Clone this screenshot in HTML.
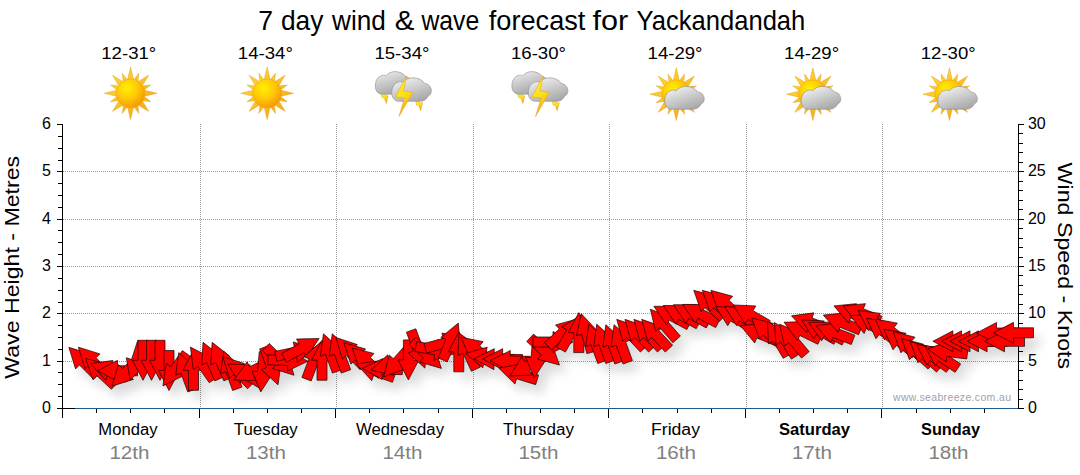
<!DOCTYPE html>
<html><head><meta charset="utf-8"><title>7 day wind &amp; wave forecast for Yackandandah</title>
<style>
html,body{margin:0;padding:0;background:#fff;}
body{width:1080px;height:475px;overflow:hidden;font-family:"Liberation Sans",sans-serif;}
svg{display:block;font-family:"Liberation Sans",sans-serif;}
</style></head><body>
<svg width="1080" height="475" viewBox="0 0 1080 475">
<defs>
<radialGradient id="sunG" cx="0.38" cy="0.32" r="0.75">
<stop offset="0" stop-color="#fff000"/><stop offset="0.5" stop-color="#ffc808"/><stop offset="1" stop-color="#f59200"/>
</radialGradient>
<linearGradient id="rayG" x1="0" y1="0" x2="1" y2="1">
<stop offset="0" stop-color="#ffe030"/><stop offset="1" stop-color="#f3a214"/>
</linearGradient>
<linearGradient id="cloudG" x1="0" y1="0" x2="0.6" y2="1">
<stop offset="0" stop-color="#fbfbfb"/><stop offset="0.4" stop-color="#dadada"/><stop offset="1" stop-color="#aaaaaa"/>
</linearGradient>
<linearGradient id="cloudG2" x1="0" y1="0" x2="0.5" y2="1">
<stop offset="0" stop-color="#f4f4f4"/><stop offset="0.4" stop-color="#d2d2d2"/><stop offset="1" stop-color="#a4a4a4"/>
</linearGradient>
<linearGradient id="boltG" x1="0" y1="0" x2="0.3" y2="1">
<stop offset="0" stop-color="#fff02a"/><stop offset="0.55" stop-color="#fde01a"/><stop offset="1" stop-color="#f2a81a"/>
</linearGradient>
<filter id="sh" x="-5%" y="-30%" width="110%" height="180%">
<feGaussianBlur in="SourceAlpha" stdDeviation="5.5"/>
<feOffset dx="7" dy="9" result="b"/>
<feComponentTransfer><feFuncA type="linear" slope="0.15"/></feComponentTransfer>
</filter>
<filter id="soft" x="-10%" y="-10%" width="120%" height="120%"><feGaussianBlur stdDeviation="0.35"/></filter>

<g id="sun"><path d="M3.2 -13L-3.2 -13L0 -26.4ZM7.19 -11.09L2.76 -12.93L8.34 -20.14ZM11.38 -7L7 -11.38L18.1 -18.1ZM12.93 -2.76L11.09 -7.19L20.14 -8.34ZM13 3.2L13 -3.2L26.4 -0ZM11.09 7.19L12.93 2.76L20.14 8.34ZM7 11.38L11.38 7L18.1 18.1ZM2.76 12.93L7.19 11.09L8.34 20.14ZM-3.2 13L3.2 13L0 26.4ZM-7.19 11.09L-2.76 12.93L-8.34 20.14ZM-11.38 7L-7 11.38L-18.1 18.1ZM-12.93 2.76L-11.09 7.19L-20.14 8.34ZM-13 -3.2L-13 3.2L-26.4 0ZM-11.09 -7.19L-12.93 -2.76L-20.14 -8.34ZM-7 -11.38L-11.38 -7L-18.1 -18.1ZM-2.76 -12.93L-7.19 -11.09L-8.34 -20.14Z" fill="url(#rayG)" stroke="#dd9416" stroke-width="0.4"/><circle cx="0" cy="0" r="14.3" fill="url(#sunG)" stroke="#f0a010" stroke-width="0.4"/></g>
</defs>
<rect width="1080" height="475" fill="#fff"/>
<line x1="63" y1="361.5" x2="1018" y2="361.5" stroke="#9a9a9a" stroke-width="1" stroke-dasharray="1 1"/>
<line x1="63" y1="313.5" x2="1018" y2="313.5" stroke="#9a9a9a" stroke-width="1" stroke-dasharray="1 1"/>
<line x1="63" y1="266.5" x2="1018" y2="266.5" stroke="#9a9a9a" stroke-width="1" stroke-dasharray="1 1"/>
<line x1="63" y1="219.5" x2="1018" y2="219.5" stroke="#9a9a9a" stroke-width="1" stroke-dasharray="1 1"/>
<line x1="63" y1="171.5" x2="1018" y2="171.5" stroke="#9a9a9a" stroke-width="1" stroke-dasharray="1 1"/>
<line x1="200.5" y1="124" x2="200.5" y2="408" stroke="#9a9a9a" stroke-width="1" stroke-dasharray="1 1"/>
<line x1="336.5" y1="124" x2="336.5" y2="408" stroke="#9a9a9a" stroke-width="1" stroke-dasharray="1 1"/>
<line x1="473.5" y1="124" x2="473.5" y2="408" stroke="#9a9a9a" stroke-width="1" stroke-dasharray="1 1"/>
<line x1="609.5" y1="124" x2="609.5" y2="408" stroke="#9a9a9a" stroke-width="1" stroke-dasharray="1 1"/>
<line x1="746.5" y1="124" x2="746.5" y2="408" stroke="#9a9a9a" stroke-width="1" stroke-dasharray="1 1"/>
<line x1="882.5" y1="124" x2="882.5" y2="408" stroke="#9a9a9a" stroke-width="1" stroke-dasharray="1 1"/>
<path d="M62.5 124V418M1018.5 124V409M57 408.5H63M58 396.5H63M58 384.5H63M58 372.5H63M57 361.5H63M58 349.5H63M58 337.5H63M58 325.5H63M57 313.5H63M58 302.5H63M58 290.5H63M58 278.5H63M57 266.5H63M58 254.5H63M58 242.5H63M58 230.5H63M57 219.5H63M58 207.5H63M58 195.5H63M58 183.5H63M57 171.5H63M58 160.5H63M58 148.5H63M58 136.5H63M57 124.5H63M1018 408.5H1024M1018 399.5H1023M1018 389.5H1023M1018 380.5H1023M1018 370.5H1023M1018 361.5H1024M1018 351.5H1023M1018 342.5H1023M1018 332.5H1023M1018 323.5H1023M1018 313.5H1024M1018 304.5H1023M1018 294.5H1023M1018 285.5H1023M1018 275.5H1023M1018 266.5H1024M1018 257.5H1023M1018 247.5H1023M1018 238.5H1023M1018 228.5H1023M1018 219.5H1024M1018 209.5H1023M1018 200.5H1023M1018 190.5H1023M1018 181.5H1023M1018 171.5H1024M1018 162.5H1023M1018 152.5H1023M1018 143.5H1023M1018 133.5H1023M1018 124.5H1024M62.5 408V418M96.5 408V413M130.5 408V413M164.5 408V413M199.5 408V418M233.5 408V413M267.5 408V413M301.5 408V413M335.5 408V418M369.5 408V413M403.5 408V413M438.5 408V413M472.5 408V418M506.5 408V413M540.5 408V413M574.5 408V413M608.5 408V418M642.5 408V413M677.5 408V413M711.5 408V413M745.5 408V418M779.5 408V413M813.5 408V413M847.5 408V413M881.5 408V418M916.5 408V413M950.5 408V413M984.5 408V413" stroke="#000" stroke-width="1" fill="none" shape-rendering="crispEdges"/>
<line x1="57" y1="408.5" x2="75" y2="408.5" stroke="#000" stroke-width="1" shape-rendering="crispEdges"/>
<line x1="75" y1="408.5" x2="1018" y2="408.5" stroke="#1f5c90" stroke-width="1" shape-rendering="crispEdges"/>
<g filter="url(#sh)"><polygon points="68.86,347.36 90.42,354.08 86.54,357.96 100.68,372.11 93.61,379.18 79.46,365.04 75.58,368.92"/><polygon points="78.36,347.16 99.92,353.88 96.04,357.76 110.18,371.91 103.11,378.98 88.96,364.84 85.08,368.72"/><polygon points="85.57,358.36 107.36,364.32 103.61,368.34 118.24,381.98 111.42,389.3 96.79,375.66 93.04,379.68"/><polygon points="90.51,363.56 112.89,360.53 111.01,365.7 129.8,372.54 126.38,381.94 107.59,375.1 105.71,380.27"/><polygon points="97.5,370.8 117.5,360.3 117.5,365.8 137.5,365.8 137.5,375.8 117.5,375.8 117.5,381.3"/><polygon points="111.86,386.14 118.58,364.58 122.46,368.46 136.61,354.32 143.68,361.39 129.54,375.54 133.42,379.42"/><polygon points="130.12,380.02 126.31,357.76 131.54,359.45 137.73,340.43 147.24,343.52 141.06,362.55 146.29,364.24"/><polygon points="143,380.3 132.5,360.3 138,360.3 138,340.3 148,340.3 148,360.3 153.5,360.3"/><polygon points="151.5,380.3 141,360.3 146.5,360.3 146.5,340.3 156.5,340.3 156.5,360.3 162,360.3"/><polygon points="160,380.3 149.5,360.3 155,360.3 155,340.3 165,340.3 165,360.3 170.5,360.3"/><polygon points="169,390.5 158.5,370.5 164,370.5 164,350.5 174,350.5 174,370.5 179.5,370.5"/><polygon points="162.94,385.88 166.21,363.53 170.65,366.76 182.41,350.58 190.5,356.46 178.75,372.64 183.19,375.87"/><polygon points="178.76,352.61 195.47,367.81 190.3,369.69 197.14,388.48 187.74,391.9 180.9,373.11 175.73,374.99"/><polygon points="193.5,350.3 204,370.3 198.5,370.3 198.5,390.3 188.5,390.3 188.5,370.3 183,370.3"/><polygon points="190.43,347.12 210.5,357.48 206,360.63 217.47,377.02 209.28,382.75 197.8,366.37 193.3,369.52"/><polygon points="203.07,342.33 220.79,356.33 215.77,358.57 223.9,376.84 214.77,380.9 206.63,362.63 201.61,364.87"/><polygon points="212.17,342.33 229.89,356.33 224.87,358.57 233,376.84 223.87,380.9 215.73,362.63 210.71,364.87"/><polygon points="223.66,351.21 240.37,366.41 235.2,368.29 242.04,387.08 232.64,390.5 225.8,371.71 220.63,373.59"/><polygon points="222.86,356.86 244.42,363.58 240.54,367.46 254.68,381.61 247.61,388.68 233.46,374.54 229.58,378.42"/><polygon points="227.68,364 250.25,364.91 247.5,369.67 264.82,379.67 259.82,388.33 242.5,378.33 239.75,383.09"/><polygon points="233.72,380.07 247.1,361.86 249.51,366.81 267.48,358.04 271.87,367.03 253.89,375.79 256.3,380.74"/><polygon points="260.76,391.92 252.04,371.08 257.52,371.56 259.26,351.64 269.22,352.51 267.48,372.44 272.96,372.92"/><polygon points="278.04,384.79 261.33,369.59 266.5,367.71 259.66,348.92 269.06,345.5 275.9,364.29 281.07,362.41"/><polygon points="294.04,375.24 272.48,368.52 276.36,364.64 262.22,350.49 269.29,343.42 283.44,357.56 287.32,353.68"/><polygon points="307.89,361.2 287.53,370.99 287.73,365.5 267.74,364.8 268.09,354.81 288.07,355.5 288.27,350.01"/><polygon points="314.96,348.04 297.58,362.47 296.44,357.09 276.88,361.25 274.8,351.47 294.36,347.31 293.22,341.93"/><polygon points="319.09,338.5 306.69,357.38 304.02,352.57 286.53,362.27 281.68,353.52 299.18,343.83 296.51,339.02"/><polygon points="320.87,341.83 323.5,364.26 318.37,362.29 311.2,380.96 301.86,377.38 309.03,358.71 303.9,356.74"/><polygon points="322,340.2 332.5,360.2 327,360.2 327,380.2 317,380.2 317,360.2 311.5,360.2"/><polygon points="323.46,333.81 340.17,349.01 335,350.89 341.84,369.68 332.44,373.1 325.6,354.31 320.43,356.19"/><polygon points="332.26,333.81 348.97,349.01 343.8,350.89 350.64,369.68 341.24,373.1 334.4,354.31 329.23,356.19"/><polygon points="335.91,337.51 357.35,344.61 353.4,348.43 367.29,362.81 360.1,369.76 346.2,355.37 342.25,359.19"/><polygon points="343.91,342.71 365.59,349.05 361.77,353 376.16,366.9 369.21,374.09 354.83,360.2 351.01,364.15"/><polygon points="352.04,347.92 373.93,353.5 370.25,357.58 385.11,370.97 378.42,378.4 363.55,365.02 359.87,369.1"/><polygon points="356.51,363.96 378.89,360.93 377.01,366.1 395.8,372.94 392.38,382.34 373.59,375.5 371.71,380.67"/><polygon points="362.51,368.3 382.87,358.51 382.67,364 402.66,364.7 402.31,374.69 382.33,374 382.13,379.49"/><polygon points="371.08,370.18 387.68,354.86 389.11,360.17 408.42,354.99 411.01,364.65 391.69,369.83 393.12,375.14"/><polygon points="383.62,376.86 389.2,354.97 393.28,358.65 406.67,343.79 414.1,350.48 400.72,365.35 404.8,369.03"/><polygon points="408.4,379.9 397.9,359.9 403.4,359.9 403.4,339.9 413.4,339.9 413.4,359.9 418.9,359.9"/><polygon points="424.84,368.09 408.13,352.89 413.3,351.01 406.46,332.22 415.86,328.8 422.7,347.59 427.87,345.71"/><polygon points="441.39,368.39 419.71,362.05 423.53,358.1 409.14,344.2 416.09,337.01 430.47,350.9 434.29,346.95"/><polygon points="455.2,353.47 433.68,360.34 434.63,354.92 414.94,351.45 416.67,341.6 436.37,345.08 437.32,339.66"/><polygon points="463.97,337.97 447.37,353.29 445.94,347.98 426.63,353.16 424.04,343.5 443.36,338.32 441.93,333.01"/><polygon points="458.31,323.09 460.17,345.6 455.1,343.45 447.29,361.86 438.08,357.96 445.9,339.55 440.83,337.4"/><polygon points="458.8,331.8 469.3,351.8 463.8,351.8 463.8,371.8 453.8,371.8 453.8,351.8 448.3,351.8"/><polygon points="459.05,332.87 477.02,346.56 472.03,348.89 480.48,367.01 471.42,371.24 462.97,353.11 457.98,355.44"/><polygon points="460.96,337.21 483.11,341.64 479.65,345.91 495.19,358.5 488.9,366.27 473.35,353.69 469.89,357.96"/><polygon points="465.44,353.34 487.18,347.23 486.04,352.61 505.6,356.77 503.52,366.55 483.96,362.39 482.82,367.77"/><polygon points="474.1,358.85 494.28,348.7 494.19,354.2 514.18,354.55 514.01,364.55 494.01,364.2 493.92,369.7"/><polygon points="482.5,358.85 502.68,348.7 502.59,354.2 522.58,354.55 522.41,364.55 502.41,364.2 502.32,369.7"/><polygon points="490.1,360.65 510.28,350.5 510.19,356 530.18,356.35 530.01,366.35 510.01,366 509.92,371.5"/><polygon points="498.87,368.15 521.07,363.96 519.46,369.22 538.59,375.07 535.66,384.63 516.54,378.78 514.93,384.04"/><polygon points="509.68,376 521.75,356.91 524.5,361.67 541.82,351.67 546.82,360.33 529.5,370.33 532.25,375.09"/><polygon points="534.26,377.92 525.54,357.08 531.02,357.56 532.76,337.64 542.72,338.51 540.98,358.44 546.46,358.92"/><polygon points="559.43,365.04 537.64,359.08 541.39,355.06 526.76,341.42 533.58,334.1 548.21,347.74 551.96,343.72"/><polygon points="573,342 553,352.5 553,347 533,347 533,337 553,337 553,331.5"/><polygon points="577.33,318.96 569.86,340.28 566.11,336.26 551.48,349.9 544.66,342.58 559.29,328.94 555.54,324.92"/><polygon points="581,314.98 580.09,337.55 575.33,334.8 565.33,352.12 556.67,347.12 566.67,329.8 561.91,327.05"/><polygon points="578.8,312.6 589.3,332.6 583.8,332.6 583.8,352.6 573.8,352.6 573.8,332.6 568.3,332.6"/><polygon points="581.32,313.68 596.64,330.28 591.33,331.71 596.51,351.02 586.85,353.61 581.67,334.29 576.36,335.72"/><polygon points="588.76,324.21 605.47,339.41 600.3,341.29 607.14,360.08 597.74,363.5 590.9,344.71 585.73,346.59"/><polygon points="596.76,324.21 613.47,339.41 608.3,341.29 615.14,360.08 605.74,363.5 598.9,344.71 593.73,346.59"/><polygon points="605.86,324.71 622.57,339.91 617.4,341.79 624.24,360.58 614.84,364 608,345.21 602.83,347.09"/><polygon points="614.06,324.71 630.77,339.91 625.6,341.79 632.44,360.58 623.04,364 616.2,345.21 611.03,347.09"/><polygon points="616.76,319.37 638.08,326.84 634.06,330.59 647.7,345.22 640.38,352.04 626.74,337.41 622.72,341.16"/><polygon points="624.96,319.37 646.28,326.84 642.26,330.59 655.9,345.22 648.58,352.04 634.94,337.41 630.92,341.16"/><polygon points="633.86,319.37 655.18,326.84 651.16,330.59 664.8,345.22 657.48,352.04 643.84,337.41 639.82,341.16"/><polygon points="641.66,319.37 662.98,326.84 658.96,330.59 672.6,345.22 665.28,352.04 651.64,337.41 647.62,341.16"/><polygon points="650.38,309.21 671.42,317.41 667.27,321.02 680.39,336.11 672.85,342.67 659.73,327.58 655.58,331.19"/><polygon points="653.84,306.31 676.43,306.43 673.85,311.29 691.51,320.67 686.81,329.5 669.15,320.11 666.57,324.97"/><polygon points="663.24,305.51 685.83,305.63 683.25,310.49 700.91,319.87 696.21,328.7 678.55,319.31 675.97,324.17"/><polygon points="673.34,304.71 695.93,304.83 693.35,309.69 711.01,319.07 706.31,327.9 688.65,318.51 686.07,323.37"/><polygon points="682.64,304.41 705.23,304.53 702.65,309.39 720.31,318.77 715.61,327.6 697.95,318.21 695.37,323.07"/><polygon points="693.77,290.36 715.56,296.32 711.81,300.34 726.44,313.98 719.62,321.3 704.99,307.66 701.24,311.68"/><polygon points="702.37,290.36 724.16,296.32 720.41,300.34 735.04,313.98 728.22,321.3 713.59,307.66 709.84,311.68"/><polygon points="710.87,290.36 732.66,296.32 728.91,300.34 743.54,313.98 736.72,321.3 722.09,307.66 718.34,311.68"/><polygon points="715.68,306.6 738.25,307.51 735.5,312.27 752.82,322.27 747.82,330.93 730.5,320.93 727.75,325.69"/><polygon points="724.68,306.6 747.25,307.51 744.5,312.27 761.82,322.27 756.82,330.93 739.5,320.93 736.75,325.69"/><polygon points="733.18,305 755.75,305.91 753,310.67 770.32,320.67 765.32,329.33 748,319.33 745.25,324.09"/><polygon points="740.39,325.49 762.9,323.63 760.75,328.7 779.16,336.51 775.26,345.72 756.85,337.9 754.7,342.97"/><polygon points="751.64,317.92 773.53,323.5 769.85,327.58 784.71,340.97 778.02,348.4 763.15,335.02 759.47,339.1"/><polygon points="767.5,321.18 786.59,333.25 781.83,336 791.83,353.32 783.17,358.32 773.17,341 768.41,343.75"/><polygon points="774.4,322.54 793.9,333.94 789.24,336.85 799.84,353.81 791.36,359.11 780.76,342.15 776.1,345.06"/><polygon points="779.64,324.18 800.54,332.75 796.33,336.29 809.19,351.61 801.53,358.03 788.67,342.71 784.46,346.25"/><polygon points="784.02,322.23 806.6,321.56 804.19,326.51 822.17,335.27 817.78,344.26 799.81,335.49 797.4,340.44"/><polygon points="791.51,315.86 813.89,312.83 812.01,318 830.8,324.84 827.38,334.24 808.59,327.4 806.71,332.57"/><polygon points="801.68,320 824.25,320.91 821.5,325.67 838.82,335.67 833.82,344.33 816.5,334.33 813.75,339.09"/><polygon points="808.68,322.42 831.27,322.14 828.77,327.04 846.59,336.12 842.05,345.03 824.23,335.96 821.73,340.86"/><polygon points="815.73,325.53 838.16,322.9 836.19,328.03 854.86,335.2 851.28,344.54 832.61,337.37 830.64,342.5"/><polygon points="823.36,315.11 845.83,312.86 843.77,317.96 862.32,325.46 858.57,334.73 840.03,327.24 837.97,332.34"/><polygon points="833.96,305.91 856.43,303.66 854.37,308.76 872.92,316.26 869.17,325.53 850.63,318.04 848.57,323.14"/><polygon points="842.96,305.91 865.43,303.66 863.37,308.76 881.92,316.26 878.17,325.53 859.63,318.04 857.57,323.14"/><polygon points="850.37,315.55 872.94,314.48 870.61,319.47 888.74,327.92 884.51,336.98 866.39,328.53 864.06,333.52"/><polygon points="858.12,310.53 880.52,313.4 877.37,317.9 893.75,329.38 888.02,337.57 871.63,326.1 868.48,330.6"/><polygon points="866.64,318.19 888.86,322.23 885.48,326.56 901.24,338.87 895.08,346.75 879.32,334.44 875.94,338.77"/><polygon points="875.14,319.09 897.36,323.13 893.98,327.46 909.74,339.77 903.58,347.65 887.82,335.34 884.44,339.67"/><polygon points="883.74,329.19 905.96,333.23 902.58,337.56 918.34,349.87 912.18,357.75 896.42,345.44 893.04,349.77"/><polygon points="893.14,331.62 915.03,337.2 911.35,341.28 926.21,354.67 919.52,362.1 904.65,348.72 900.97,352.8"/><polygon points="901.64,338.62 923.53,344.2 919.85,348.28 934.71,361.67 928.02,369.1 913.15,355.72 909.47,359.8"/><polygon points="910.14,341.62 932.03,347.2 928.35,351.28 943.21,364.67 936.52,372.1 921.65,358.72 917.97,362.8"/><polygon points="916.82,344.74 939.17,348.01 935.94,352.45 952.12,364.21 946.24,372.3 930.06,360.55 926.83,364.99"/><polygon points="924.72,345.82 947.17,348.3 944.1,352.85 960.68,364.04 955.08,372.33 938.5,361.15 935.43,365.7"/><polygon points="927.65,349.06 948.78,341.08 948.11,346.54 967.96,348.97 966.74,358.9 946.89,356.46 946.22,361.92"/><polygon points="932.9,341.3 952.9,330.8 952.9,336.3 972.9,336.3 972.9,346.3 952.9,346.3 952.9,351.8"/><polygon points="941.5,341.3 961.5,330.8 961.5,336.3 981.5,336.3 981.5,346.3 961.5,346.3 961.5,351.8"/><polygon points="950,341.3 970,330.8 970,336.3 990,336.3 990,346.3 970,346.3 970,351.8"/><polygon points="958.5,341.3 978.5,330.8 978.5,336.3 998.5,336.3 998.5,346.3 978.5,346.3 978.5,351.8"/><polygon points="967.1,341.3 987.1,330.8 987.1,336.3 1007.1,336.3 1007.1,346.3 987.1,346.3 987.1,351.8"/><polygon points="976.5,333 996.5,322.5 996.5,328 1016.5,328 1016.5,338 996.5,338 996.5,343.5"/><polygon points="984.5,341.3 1004.5,330.8 1004.5,336.3 1024.5,336.3 1024.5,346.3 1004.5,346.3 1004.5,351.8"/><polygon points="993.5,332.8 1013.5,322.3 1013.5,327.8 1033.5,327.8 1033.5,337.8 1013.5,337.8 1013.5,343.3"/></g>
<g fill="#ff0000" stroke="#1a0000" stroke-width="0.7" stroke-linejoin="miter"><polygon points="68.86,347.36 90.42,354.08 86.54,357.96 100.68,372.11 93.61,379.18 79.46,365.04 75.58,368.92"/><polygon points="78.36,347.16 99.92,353.88 96.04,357.76 110.18,371.91 103.11,378.98 88.96,364.84 85.08,368.72"/><polygon points="85.57,358.36 107.36,364.32 103.61,368.34 118.24,381.98 111.42,389.3 96.79,375.66 93.04,379.68"/><polygon points="90.51,363.56 112.89,360.53 111.01,365.7 129.8,372.54 126.38,381.94 107.59,375.1 105.71,380.27"/><polygon points="97.5,370.8 117.5,360.3 117.5,365.8 137.5,365.8 137.5,375.8 117.5,375.8 117.5,381.3"/><polygon points="111.86,386.14 118.58,364.58 122.46,368.46 136.61,354.32 143.68,361.39 129.54,375.54 133.42,379.42"/><polygon points="130.12,380.02 126.31,357.76 131.54,359.45 137.73,340.43 147.24,343.52 141.06,362.55 146.29,364.24"/><polygon points="143,380.3 132.5,360.3 138,360.3 138,340.3 148,340.3 148,360.3 153.5,360.3"/><polygon points="151.5,380.3 141,360.3 146.5,360.3 146.5,340.3 156.5,340.3 156.5,360.3 162,360.3"/><polygon points="160,380.3 149.5,360.3 155,360.3 155,340.3 165,340.3 165,360.3 170.5,360.3"/><polygon points="169,390.5 158.5,370.5 164,370.5 164,350.5 174,350.5 174,370.5 179.5,370.5"/><polygon points="162.94,385.88 166.21,363.53 170.65,366.76 182.41,350.58 190.5,356.46 178.75,372.64 183.19,375.87"/><polygon points="178.76,352.61 195.47,367.81 190.3,369.69 197.14,388.48 187.74,391.9 180.9,373.11 175.73,374.99"/><polygon points="193.5,350.3 204,370.3 198.5,370.3 198.5,390.3 188.5,390.3 188.5,370.3 183,370.3"/><polygon points="190.43,347.12 210.5,357.48 206,360.63 217.47,377.02 209.28,382.75 197.8,366.37 193.3,369.52"/><polygon points="203.07,342.33 220.79,356.33 215.77,358.57 223.9,376.84 214.77,380.9 206.63,362.63 201.61,364.87"/><polygon points="212.17,342.33 229.89,356.33 224.87,358.57 233,376.84 223.87,380.9 215.73,362.63 210.71,364.87"/><polygon points="223.66,351.21 240.37,366.41 235.2,368.29 242.04,387.08 232.64,390.5 225.8,371.71 220.63,373.59"/><polygon points="222.86,356.86 244.42,363.58 240.54,367.46 254.68,381.61 247.61,388.68 233.46,374.54 229.58,378.42"/><polygon points="227.68,364 250.25,364.91 247.5,369.67 264.82,379.67 259.82,388.33 242.5,378.33 239.75,383.09"/><polygon points="233.72,380.07 247.1,361.86 249.51,366.81 267.48,358.04 271.87,367.03 253.89,375.79 256.3,380.74"/><polygon points="260.76,391.92 252.04,371.08 257.52,371.56 259.26,351.64 269.22,352.51 267.48,372.44 272.96,372.92"/><polygon points="278.04,384.79 261.33,369.59 266.5,367.71 259.66,348.92 269.06,345.5 275.9,364.29 281.07,362.41"/><polygon points="294.04,375.24 272.48,368.52 276.36,364.64 262.22,350.49 269.29,343.42 283.44,357.56 287.32,353.68"/><polygon points="307.89,361.2 287.53,370.99 287.73,365.5 267.74,364.8 268.09,354.81 288.07,355.5 288.27,350.01"/><polygon points="314.96,348.04 297.58,362.47 296.44,357.09 276.88,361.25 274.8,351.47 294.36,347.31 293.22,341.93"/><polygon points="319.09,338.5 306.69,357.38 304.02,352.57 286.53,362.27 281.68,353.52 299.18,343.83 296.51,339.02"/><polygon points="320.87,341.83 323.5,364.26 318.37,362.29 311.2,380.96 301.86,377.38 309.03,358.71 303.9,356.74"/><polygon points="322,340.2 332.5,360.2 327,360.2 327,380.2 317,380.2 317,360.2 311.5,360.2"/><polygon points="323.46,333.81 340.17,349.01 335,350.89 341.84,369.68 332.44,373.1 325.6,354.31 320.43,356.19"/><polygon points="332.26,333.81 348.97,349.01 343.8,350.89 350.64,369.68 341.24,373.1 334.4,354.31 329.23,356.19"/><polygon points="335.91,337.51 357.35,344.61 353.4,348.43 367.29,362.81 360.1,369.76 346.2,355.37 342.25,359.19"/><polygon points="343.91,342.71 365.59,349.05 361.77,353 376.16,366.9 369.21,374.09 354.83,360.2 351.01,364.15"/><polygon points="352.04,347.92 373.93,353.5 370.25,357.58 385.11,370.97 378.42,378.4 363.55,365.02 359.87,369.1"/><polygon points="356.51,363.96 378.89,360.93 377.01,366.1 395.8,372.94 392.38,382.34 373.59,375.5 371.71,380.67"/><polygon points="362.51,368.3 382.87,358.51 382.67,364 402.66,364.7 402.31,374.69 382.33,374 382.13,379.49"/><polygon points="371.08,370.18 387.68,354.86 389.11,360.17 408.42,354.99 411.01,364.65 391.69,369.83 393.12,375.14"/><polygon points="383.62,376.86 389.2,354.97 393.28,358.65 406.67,343.79 414.1,350.48 400.72,365.35 404.8,369.03"/><polygon points="408.4,379.9 397.9,359.9 403.4,359.9 403.4,339.9 413.4,339.9 413.4,359.9 418.9,359.9"/><polygon points="424.84,368.09 408.13,352.89 413.3,351.01 406.46,332.22 415.86,328.8 422.7,347.59 427.87,345.71"/><polygon points="441.39,368.39 419.71,362.05 423.53,358.1 409.14,344.2 416.09,337.01 430.47,350.9 434.29,346.95"/><polygon points="455.2,353.47 433.68,360.34 434.63,354.92 414.94,351.45 416.67,341.6 436.37,345.08 437.32,339.66"/><polygon points="463.97,337.97 447.37,353.29 445.94,347.98 426.63,353.16 424.04,343.5 443.36,338.32 441.93,333.01"/><polygon points="458.31,323.09 460.17,345.6 455.1,343.45 447.29,361.86 438.08,357.96 445.9,339.55 440.83,337.4"/><polygon points="458.8,331.8 469.3,351.8 463.8,351.8 463.8,371.8 453.8,371.8 453.8,351.8 448.3,351.8"/><polygon points="459.05,332.87 477.02,346.56 472.03,348.89 480.48,367.01 471.42,371.24 462.97,353.11 457.98,355.44"/><polygon points="460.96,337.21 483.11,341.64 479.65,345.91 495.19,358.5 488.9,366.27 473.35,353.69 469.89,357.96"/><polygon points="465.44,353.34 487.18,347.23 486.04,352.61 505.6,356.77 503.52,366.55 483.96,362.39 482.82,367.77"/><polygon points="474.1,358.85 494.28,348.7 494.19,354.2 514.18,354.55 514.01,364.55 494.01,364.2 493.92,369.7"/><polygon points="482.5,358.85 502.68,348.7 502.59,354.2 522.58,354.55 522.41,364.55 502.41,364.2 502.32,369.7"/><polygon points="490.1,360.65 510.28,350.5 510.19,356 530.18,356.35 530.01,366.35 510.01,366 509.92,371.5"/><polygon points="498.87,368.15 521.07,363.96 519.46,369.22 538.59,375.07 535.66,384.63 516.54,378.78 514.93,384.04"/><polygon points="509.68,376 521.75,356.91 524.5,361.67 541.82,351.67 546.82,360.33 529.5,370.33 532.25,375.09"/><polygon points="534.26,377.92 525.54,357.08 531.02,357.56 532.76,337.64 542.72,338.51 540.98,358.44 546.46,358.92"/><polygon points="559.43,365.04 537.64,359.08 541.39,355.06 526.76,341.42 533.58,334.1 548.21,347.74 551.96,343.72"/><polygon points="573,342 553,352.5 553,347 533,347 533,337 553,337 553,331.5"/><polygon points="577.33,318.96 569.86,340.28 566.11,336.26 551.48,349.9 544.66,342.58 559.29,328.94 555.54,324.92"/><polygon points="581,314.98 580.09,337.55 575.33,334.8 565.33,352.12 556.67,347.12 566.67,329.8 561.91,327.05"/><polygon points="578.8,312.6 589.3,332.6 583.8,332.6 583.8,352.6 573.8,352.6 573.8,332.6 568.3,332.6"/><polygon points="581.32,313.68 596.64,330.28 591.33,331.71 596.51,351.02 586.85,353.61 581.67,334.29 576.36,335.72"/><polygon points="588.76,324.21 605.47,339.41 600.3,341.29 607.14,360.08 597.74,363.5 590.9,344.71 585.73,346.59"/><polygon points="596.76,324.21 613.47,339.41 608.3,341.29 615.14,360.08 605.74,363.5 598.9,344.71 593.73,346.59"/><polygon points="605.86,324.71 622.57,339.91 617.4,341.79 624.24,360.58 614.84,364 608,345.21 602.83,347.09"/><polygon points="614.06,324.71 630.77,339.91 625.6,341.79 632.44,360.58 623.04,364 616.2,345.21 611.03,347.09"/><polygon points="616.76,319.37 638.08,326.84 634.06,330.59 647.7,345.22 640.38,352.04 626.74,337.41 622.72,341.16"/><polygon points="624.96,319.37 646.28,326.84 642.26,330.59 655.9,345.22 648.58,352.04 634.94,337.41 630.92,341.16"/><polygon points="633.86,319.37 655.18,326.84 651.16,330.59 664.8,345.22 657.48,352.04 643.84,337.41 639.82,341.16"/><polygon points="641.66,319.37 662.98,326.84 658.96,330.59 672.6,345.22 665.28,352.04 651.64,337.41 647.62,341.16"/><polygon points="650.38,309.21 671.42,317.41 667.27,321.02 680.39,336.11 672.85,342.67 659.73,327.58 655.58,331.19"/><polygon points="653.84,306.31 676.43,306.43 673.85,311.29 691.51,320.67 686.81,329.5 669.15,320.11 666.57,324.97"/><polygon points="663.24,305.51 685.83,305.63 683.25,310.49 700.91,319.87 696.21,328.7 678.55,319.31 675.97,324.17"/><polygon points="673.34,304.71 695.93,304.83 693.35,309.69 711.01,319.07 706.31,327.9 688.65,318.51 686.07,323.37"/><polygon points="682.64,304.41 705.23,304.53 702.65,309.39 720.31,318.77 715.61,327.6 697.95,318.21 695.37,323.07"/><polygon points="693.77,290.36 715.56,296.32 711.81,300.34 726.44,313.98 719.62,321.3 704.99,307.66 701.24,311.68"/><polygon points="702.37,290.36 724.16,296.32 720.41,300.34 735.04,313.98 728.22,321.3 713.59,307.66 709.84,311.68"/><polygon points="710.87,290.36 732.66,296.32 728.91,300.34 743.54,313.98 736.72,321.3 722.09,307.66 718.34,311.68"/><polygon points="715.68,306.6 738.25,307.51 735.5,312.27 752.82,322.27 747.82,330.93 730.5,320.93 727.75,325.69"/><polygon points="724.68,306.6 747.25,307.51 744.5,312.27 761.82,322.27 756.82,330.93 739.5,320.93 736.75,325.69"/><polygon points="733.18,305 755.75,305.91 753,310.67 770.32,320.67 765.32,329.33 748,319.33 745.25,324.09"/><polygon points="740.39,325.49 762.9,323.63 760.75,328.7 779.16,336.51 775.26,345.72 756.85,337.9 754.7,342.97"/><polygon points="751.64,317.92 773.53,323.5 769.85,327.58 784.71,340.97 778.02,348.4 763.15,335.02 759.47,339.1"/><polygon points="767.5,321.18 786.59,333.25 781.83,336 791.83,353.32 783.17,358.32 773.17,341 768.41,343.75"/><polygon points="774.4,322.54 793.9,333.94 789.24,336.85 799.84,353.81 791.36,359.11 780.76,342.15 776.1,345.06"/><polygon points="779.64,324.18 800.54,332.75 796.33,336.29 809.19,351.61 801.53,358.03 788.67,342.71 784.46,346.25"/><polygon points="784.02,322.23 806.6,321.56 804.19,326.51 822.17,335.27 817.78,344.26 799.81,335.49 797.4,340.44"/><polygon points="791.51,315.86 813.89,312.83 812.01,318 830.8,324.84 827.38,334.24 808.59,327.4 806.71,332.57"/><polygon points="801.68,320 824.25,320.91 821.5,325.67 838.82,335.67 833.82,344.33 816.5,334.33 813.75,339.09"/><polygon points="808.68,322.42 831.27,322.14 828.77,327.04 846.59,336.12 842.05,345.03 824.23,335.96 821.73,340.86"/><polygon points="815.73,325.53 838.16,322.9 836.19,328.03 854.86,335.2 851.28,344.54 832.61,337.37 830.64,342.5"/><polygon points="823.36,315.11 845.83,312.86 843.77,317.96 862.32,325.46 858.57,334.73 840.03,327.24 837.97,332.34"/><polygon points="833.96,305.91 856.43,303.66 854.37,308.76 872.92,316.26 869.17,325.53 850.63,318.04 848.57,323.14"/><polygon points="842.96,305.91 865.43,303.66 863.37,308.76 881.92,316.26 878.17,325.53 859.63,318.04 857.57,323.14"/><polygon points="850.37,315.55 872.94,314.48 870.61,319.47 888.74,327.92 884.51,336.98 866.39,328.53 864.06,333.52"/><polygon points="858.12,310.53 880.52,313.4 877.37,317.9 893.75,329.38 888.02,337.57 871.63,326.1 868.48,330.6"/><polygon points="866.64,318.19 888.86,322.23 885.48,326.56 901.24,338.87 895.08,346.75 879.32,334.44 875.94,338.77"/><polygon points="875.14,319.09 897.36,323.13 893.98,327.46 909.74,339.77 903.58,347.65 887.82,335.34 884.44,339.67"/><polygon points="883.74,329.19 905.96,333.23 902.58,337.56 918.34,349.87 912.18,357.75 896.42,345.44 893.04,349.77"/><polygon points="893.14,331.62 915.03,337.2 911.35,341.28 926.21,354.67 919.52,362.1 904.65,348.72 900.97,352.8"/><polygon points="901.64,338.62 923.53,344.2 919.85,348.28 934.71,361.67 928.02,369.1 913.15,355.72 909.47,359.8"/><polygon points="910.14,341.62 932.03,347.2 928.35,351.28 943.21,364.67 936.52,372.1 921.65,358.72 917.97,362.8"/><polygon points="916.82,344.74 939.17,348.01 935.94,352.45 952.12,364.21 946.24,372.3 930.06,360.55 926.83,364.99"/><polygon points="924.72,345.82 947.17,348.3 944.1,352.85 960.68,364.04 955.08,372.33 938.5,361.15 935.43,365.7"/><polygon points="927.65,349.06 948.78,341.08 948.11,346.54 967.96,348.97 966.74,358.9 946.89,356.46 946.22,361.92"/><polygon points="932.9,341.3 952.9,330.8 952.9,336.3 972.9,336.3 972.9,346.3 952.9,346.3 952.9,351.8"/><polygon points="941.5,341.3 961.5,330.8 961.5,336.3 981.5,336.3 981.5,346.3 961.5,346.3 961.5,351.8"/><polygon points="950,341.3 970,330.8 970,336.3 990,336.3 990,346.3 970,346.3 970,351.8"/><polygon points="958.5,341.3 978.5,330.8 978.5,336.3 998.5,336.3 998.5,346.3 978.5,346.3 978.5,351.8"/><polygon points="967.1,341.3 987.1,330.8 987.1,336.3 1007.1,336.3 1007.1,346.3 987.1,346.3 987.1,351.8"/><polygon points="976.5,333 996.5,322.5 996.5,328 1016.5,328 1016.5,338 996.5,338 996.5,343.5"/><polygon points="984.5,341.3 1004.5,330.8 1004.5,336.3 1024.5,336.3 1024.5,346.3 1004.5,346.3 1004.5,351.8"/><polygon points="993.5,332.8 1013.5,322.3 1013.5,327.8 1033.5,327.8 1033.5,337.8 1013.5,337.8 1013.5,343.3"/></g>
<text x="258.2" y="29.7" font-size="27.5" textLength="14.8" lengthAdjust="spacingAndGlyphs" fill="#000">7</text>
<text x="280.9" y="29.7" font-size="27.5" textLength="42.5" lengthAdjust="spacingAndGlyphs" fill="#000">day</text>
<text x="332" y="29.7" font-size="27.5" textLength="53.8" lengthAdjust="spacingAndGlyphs" fill="#000">wind</text>
<text x="394.7" y="29.7" font-size="27.5" textLength="19.6" lengthAdjust="spacingAndGlyphs" fill="#000">&amp;</text>
<text x="421.4" y="29.7" font-size="27.5" textLength="57.8" lengthAdjust="spacingAndGlyphs" fill="#000">wave</text>
<text x="488.8" y="29.7" font-size="27.5" textLength="96.6" lengthAdjust="spacingAndGlyphs" fill="#000">forecast</text>
<text x="592.5" y="29.7" font-size="27.5" textLength="35.7" lengthAdjust="spacingAndGlyphs" fill="#000">for</text>
<text x="636.6" y="29.7" font-size="27.5" textLength="168.7" lengthAdjust="spacingAndGlyphs" fill="#000">Yackandandah</text>
<text x="101.29" y="59" font-size="16.8" textLength="55" lengthAdjust="spacingAndGlyphs" fill="#000">12-31°</text>
<text x="237.86" y="59" font-size="16.8" textLength="55" lengthAdjust="spacingAndGlyphs" fill="#000">14-34°</text>
<text x="374.43" y="59" font-size="16.8" textLength="55" lengthAdjust="spacingAndGlyphs" fill="#000">15-34°</text>
<text x="511" y="59" font-size="16.8" textLength="55" lengthAdjust="spacingAndGlyphs" fill="#000">16-30°</text>
<text x="647.57" y="59" font-size="16.8" textLength="55" lengthAdjust="spacingAndGlyphs" fill="#000">14-29°</text>
<text x="784.14" y="59" font-size="16.8" textLength="55" lengthAdjust="spacingAndGlyphs" fill="#000">14-29°</text>
<text x="920.71" y="59" font-size="16.8" textLength="55" lengthAdjust="spacingAndGlyphs" fill="#000">12-30°</text>
<text x="98.3" y="434.5" font-size="16" textLength="59.2" lengthAdjust="spacingAndGlyphs" fill="#000">Monday</text>
<text x="233.8" y="434.5" font-size="16" textLength="64" lengthAdjust="spacingAndGlyphs" fill="#000">Tuesday</text>
<text x="356" y="434.5" font-size="16" textLength="88" lengthAdjust="spacingAndGlyphs" fill="#000">Wednesday</text>
<text x="503" y="434.5" font-size="16" textLength="71" lengthAdjust="spacingAndGlyphs" fill="#000">Thursday</text>
<text x="651" y="434.5" font-size="16" textLength="49" lengthAdjust="spacingAndGlyphs" fill="#000">Friday</text>
<text x="779" y="434.5" font-size="16" font-weight="bold" textLength="71" lengthAdjust="spacingAndGlyphs" fill="#000">Saturday</text>
<text x="921" y="434.5" font-size="16" font-weight="bold" textLength="59" lengthAdjust="spacingAndGlyphs" fill="#000">Sunday</text>
<text x="109.4" y="458.8" font-size="18" textLength="40" lengthAdjust="spacingAndGlyphs" fill="#808080">12th</text>
<text x="245.9" y="458.8" font-size="18" textLength="40" lengthAdjust="spacingAndGlyphs" fill="#808080">13th</text>
<text x="382.4" y="458.8" font-size="18" textLength="40" lengthAdjust="spacingAndGlyphs" fill="#808080">14th</text>
<text x="518.4" y="458.8" font-size="18" textLength="40" lengthAdjust="spacingAndGlyphs" fill="#808080">15th</text>
<text x="655.9" y="458.8" font-size="18" textLength="40" lengthAdjust="spacingAndGlyphs" fill="#808080">16th</text>
<text x="791.9" y="458.8" font-size="18" textLength="40" lengthAdjust="spacingAndGlyphs" fill="#808080">17th</text>
<text x="928.4" y="458.8" font-size="18" textLength="40" lengthAdjust="spacingAndGlyphs" fill="#808080">18th</text>
<text x="51" y="413" font-size="16" text-anchor="end" fill="#000">0</text>
<text x="51" y="365.67" font-size="16" text-anchor="end" fill="#000">1</text>
<text x="51" y="318.33" font-size="16" text-anchor="end" fill="#000">2</text>
<text x="51" y="271" font-size="16" text-anchor="end" fill="#000">3</text>
<text x="51" y="223.67" font-size="16" text-anchor="end" fill="#000">4</text>
<text x="51" y="176.33" font-size="16" text-anchor="end" fill="#000">5</text>
<text x="51" y="129" font-size="16" text-anchor="end" fill="#000">6</text>
<text x="1027.9" y="413.1" font-size="16" fill="#000">0</text>
<text x="1027.9" y="365.77" font-size="16" fill="#000">5</text>
<text x="1027.9" y="318.43" font-size="16" fill="#000">10</text>
<text x="1027.9" y="271.1" font-size="16" fill="#000">15</text>
<text x="1027.9" y="223.77" font-size="16" fill="#000">20</text>
<text x="1027.9" y="176.43" font-size="16" fill="#000">25</text>
<text x="1027.9" y="129.1" font-size="16" fill="#000">30</text>
<text transform="translate(19.3 378.8) rotate(-90)" font-size="21" textLength="223" lengthAdjust="spacingAndGlyphs" fill="#000">Wave Height - Metres</text>
<text transform="translate(1058.3 162.6) rotate(90)" font-size="21" textLength="206.5" lengthAdjust="spacingAndGlyphs" fill="#000">Wind Speed - Knots</text>
<text x="893" y="401" font-size="10.5" textLength="118" lengthAdjust="spacing" fill="#a2a2a6">www.seabreeze.com.au</text>
<use href="#sun" x="130.59" y="93.3"/>
<use href="#sun" x="267.16" y="93.3"/>
<g transform="translate(0 0)"><polygon points="380.6,92.2 384.8,92.4 386,95.8 388.2,95.8 386.4,103.6 384.2,98 382,97.6" fill="url(#boltG)" stroke="#e0a020" stroke-width="0.4"/><polygon points="415.5,100.3 419.4,100.3 420.1,103.3 422.8,102.5 420.6,110.8 418.6,105.3 416.5,105.3" fill="url(#boltG)" stroke="#e0a020" stroke-width="0.4"/><path d="M7.5 22.8C3 22.8 0 19.5 0 14.5C0 9.5 2.5 5 7 4C8.5 3.4 10 3.6 11.5 4.4C14 1.4 17.5 0 21.2 0C26.5 0 31 2.2 33 5.5C36.5 5.5 39.6 9 39.6 12.5C39.6 15 38.5 16.8 36.5 17.6C35 20.8 32 22.8 28.7 22.8Z" transform="translate(375.3 71.6) scale(0.93 0.99)" fill="url(#cloudG2)" stroke="#8c8c8c" stroke-width="0.6"/><path d="M7.5 22.8C3 22.8 0 19.5 0 14.5C0 9.5 2.5 5 7 4C8.5 3.4 10 3.6 11.5 4.4C14 1.4 17.5 0 21.2 0C26.5 0 31 2.2 33 5.5C36.5 5.5 39.6 9 39.6 12.5C39.6 15 38.5 16.8 36.5 17.6C35 20.8 32 22.8 28.7 22.8Z" transform="translate(391.7 77.8) scale(1 1.03)" fill="url(#cloudG)" stroke="#8c8c8c" stroke-width="0.6"/><polygon points="406.9,75.8 395.2,96.9 404.4,98.2 399,116.4 412.8,92.4 403.6,91" fill="url(#boltG)" stroke="#dea01c" stroke-width="0.5"/></g>
<g transform="translate(136.57 0)"><polygon points="380.6,92.2 384.8,92.4 386,95.8 388.2,95.8 386.4,103.6 384.2,98 382,97.6" fill="url(#boltG)" stroke="#e0a020" stroke-width="0.4"/><polygon points="415.5,100.3 419.4,100.3 420.1,103.3 422.8,102.5 420.6,110.8 418.6,105.3 416.5,105.3" fill="url(#boltG)" stroke="#e0a020" stroke-width="0.4"/><path d="M7.5 22.8C3 22.8 0 19.5 0 14.5C0 9.5 2.5 5 7 4C8.5 3.4 10 3.6 11.5 4.4C14 1.4 17.5 0 21.2 0C26.5 0 31 2.2 33 5.5C36.5 5.5 39.6 9 39.6 12.5C39.6 15 38.5 16.8 36.5 17.6C35 20.8 32 22.8 28.7 22.8Z" transform="translate(375.3 71.6) scale(0.93 0.99)" fill="url(#cloudG2)" stroke="#8c8c8c" stroke-width="0.6"/><path d="M7.5 22.8C3 22.8 0 19.5 0 14.5C0 9.5 2.5 5 7 4C8.5 3.4 10 3.6 11.5 4.4C14 1.4 17.5 0 21.2 0C26.5 0 31 2.2 33 5.5C36.5 5.5 39.6 9 39.6 12.5C39.6 15 38.5 16.8 36.5 17.6C35 20.8 32 22.8 28.7 22.8Z" transform="translate(391.7 77.8) scale(1 1.03)" fill="url(#cloudG)" stroke="#8c8c8c" stroke-width="0.6"/><polygon points="406.9,75.8 395.2,96.9 404.4,98.2 399,116.4 412.8,92.4 403.6,91" fill="url(#boltG)" stroke="#dea01c" stroke-width="0.5"/></g>
<g transform="translate(0 0)"><use href="#sun" x="676.3" y="94.2"/><path d="M7.5 22.8C3 22.8 0 19.5 0 14.5C0 9.5 2.5 5 7 4C8.5 3.4 10 3.6 11.5 4.4C14 1.4 17.5 0 21.2 0C26.5 0 31 2.2 33 5.5C36.5 5.5 39.6 9 39.6 12.5C39.6 15 38.5 16.8 36.5 17.6C35 20.8 32 22.8 28.7 22.8Z" transform="translate(664.6 86.4)" fill="url(#cloudG)" stroke="#8c8c8c" stroke-width="0.6"/></g>
<g transform="translate(136.57 0)"><use href="#sun" x="676.3" y="94.2"/><path d="M7.5 22.8C3 22.8 0 19.5 0 14.5C0 9.5 2.5 5 7 4C8.5 3.4 10 3.6 11.5 4.4C14 1.4 17.5 0 21.2 0C26.5 0 31 2.2 33 5.5C36.5 5.5 39.6 9 39.6 12.5C39.6 15 38.5 16.8 36.5 17.6C35 20.8 32 22.8 28.7 22.8Z" transform="translate(664.6 86.4)" fill="url(#cloudG)" stroke="#8c8c8c" stroke-width="0.6"/></g>
<g transform="translate(273.14 0)"><use href="#sun" x="676.3" y="94.2"/><path d="M7.5 22.8C3 22.8 0 19.5 0 14.5C0 9.5 2.5 5 7 4C8.5 3.4 10 3.6 11.5 4.4C14 1.4 17.5 0 21.2 0C26.5 0 31 2.2 33 5.5C36.5 5.5 39.6 9 39.6 12.5C39.6 15 38.5 16.8 36.5 17.6C35 20.8 32 22.8 28.7 22.8Z" transform="translate(664.6 86.4)" fill="url(#cloudG)" stroke="#8c8c8c" stroke-width="0.6"/></g>
</svg></body></html>
